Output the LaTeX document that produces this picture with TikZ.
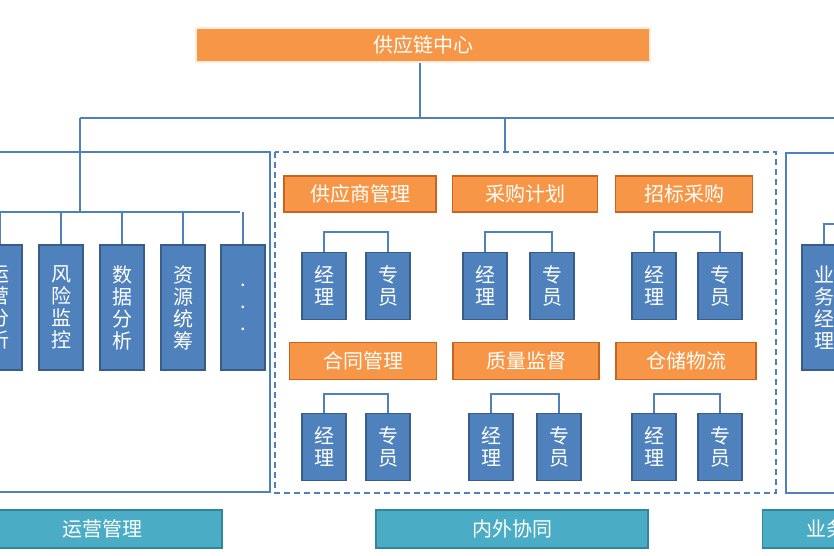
\documentclass[tikz,border=0pt]{standalone}
\usepackage{fontspec}
\setmainfont{Noto Sans CJK SC}
\begin{document}
\begin{tikzpicture}[x=1pt,y=-1pt,
 bl/.style={draw={rgb,255:red,56;green,93;blue,138}, fill={rgb,255:red,79;green,129;blue,189}, line width=1.4pt, text=white, font=\fontsize{20}{22}\selectfont, align=center, inner sep=0pt},
 og/.style={draw={rgb,255:red,200;green,100;blue,30}, fill={rgb,255:red,247;green,150;blue,70}, line width=1.2pt, text=white, font=\fontsize{20}{22}\selectfont, inner sep=0pt},
 tl/.style={draw={rgb,255:red,49;green,133;blue,156}, fill={rgb,255:red,75;green,172;blue,198}, line width=1.2pt, text=white, font=\fontsize{20}{22}\selectfont, inner sep=0pt}]
\useasboundingbox (0,0) rectangle (834,556);
\clip (0,0) rectangle (834,556);
\tikzset{lc/.style={draw={rgb,255:red,79;green,129;blue,189}, line width=1.3pt}}
% top
\node[og, draw=white!85!orange, minimum width=454pt, minimum height=34pt] (top) at (423,45) {供应链中心};
\coordinate (h1) at (420,118);
\draw[lc] (top.south -| h1) -- (h1);
\draw[lc] (80,118) -- (850,118);
\draw[lc] (505,118) -- (505,152);
\draw[lc] (80,118) -- (80,212);
% left box
\draw[lc] (-10,152) -- (270,152) -- (270,492) -- (-10,492);
\draw[lc] (-10,212) -- (240,212);
\foreach \n/\x/\t in {a/0/运\\营\\分\\析, b/61/风\\险\\监\\控, c/122/数\\据\\分\\析, d/183/资\\源\\统\\筹, e/243/.\\.\\.}{
 \node[bl, minimum width=44pt, minimum height=125pt] (L\n) at (\x,307.5) {\t};
 \draw[lc] (\x,212) -- (L\n.north);
}
% dashed box
\draw[lc, dash pattern=on 6pt off 4pt] (275,152) rectangle (776,493);
\node[og, minimum width=152pt, minimum height=36pt] (o1) at (360,194) {供应商管理};
\node[og, minimum width=145pt, minimum height=36pt] (o2) at (525,194) {采购计划};
\node[og, minimum width=137pt, minimum height=36pt] (o3) at (684,194) {招标采购};
\node[og, minimum width=147pt, minimum height=37pt] (o4) at (363,361) {合同管理};
\node[og, minimum width=146pt, minimum height=37pt] (o5) at (526,361) {质量监督};
\node[og, minimum width=140pt, minimum height=37pt] (o6) at (686,361) {仓储物流};
\foreach \g/\xa/\xb/\yt/\yb in {p1/324/388/232/286, p2/485/552/232/286, p3/654/720/232/286, q1/324/388/394/447, q2/491/559/394/447, q3/654/720/394/447}{
 \node[bl, minimum width=44pt, minimum height=67pt] (\g m) at (\xa,\yb) {经\\理};
 \node[bl, minimum width=44pt, minimum height=67pt] (\g s) at (\xb,\yb) {专\\员};
 \draw[lc] (\g m.north) -- (\xa,\yt) -- (\xb,\yt) -- (\g s.north);
}
% right box
\draw[lc] (850,153) -- (786,153) -- (786,493) -- (850,493);
\node[bl, minimum width=44pt, minimum height=125pt] (R1) at (824,307.5) {业\\务\\经\\理};
\draw[lc] (R1.north) -- (824,224) -- (850,224);
% bottom labels
\node[tl, minimum width=240pt, minimum height=38pt] (b1) at (102,529) {运营管理};
\node[tl, minimum width=272pt, minimum height=38pt] (b2) at (512,529) {内外协同};
\node[tl, anchor=west, minimum width=120pt, minimum height=38pt, text width=120pt] (b3) at (762,529) {\hspace*{44pt}业务管理};
\end{tikzpicture}
\end{document}
